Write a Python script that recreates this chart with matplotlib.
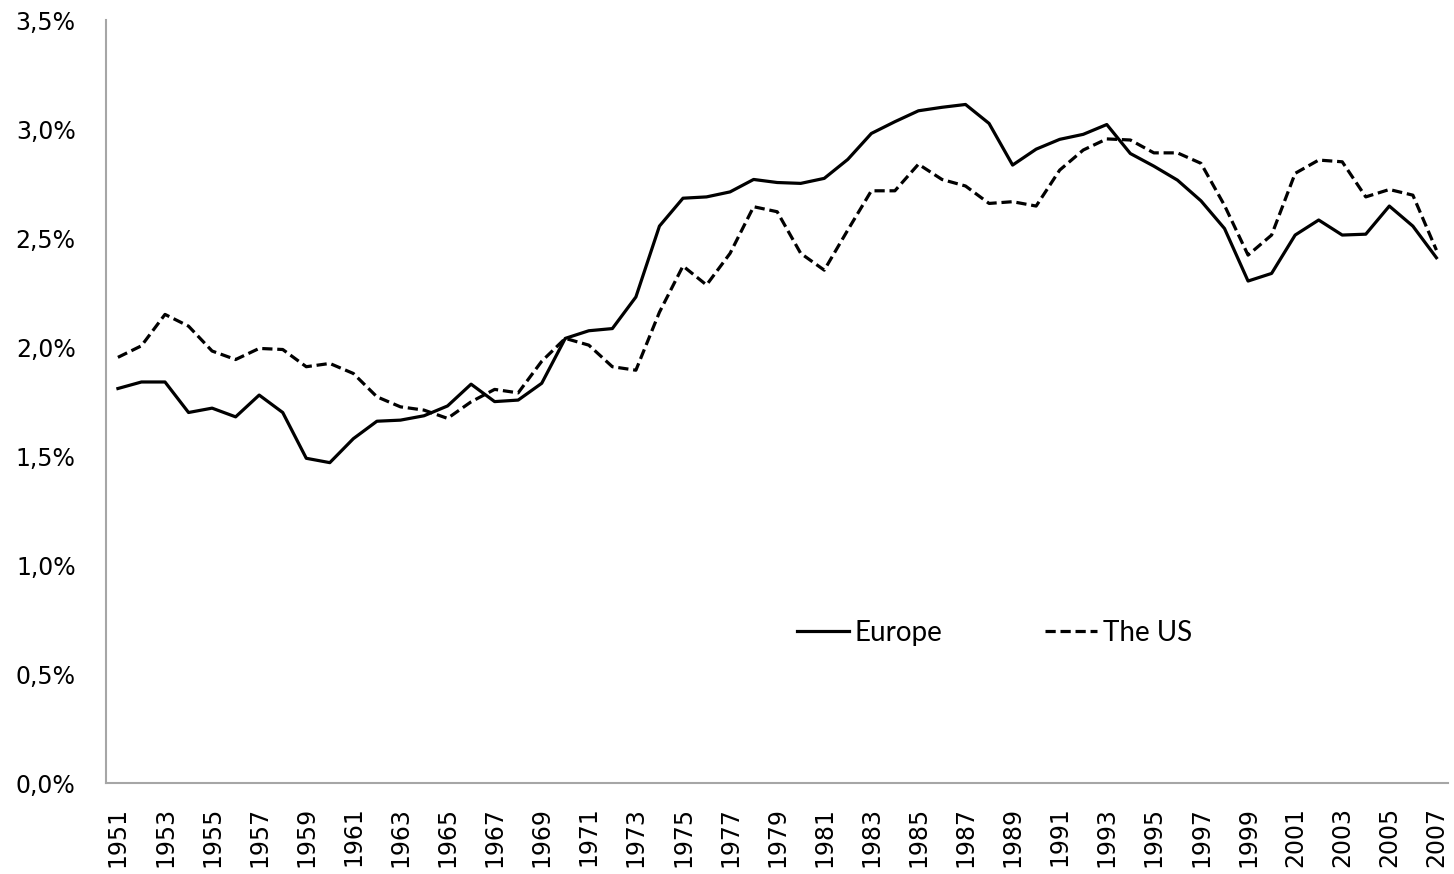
import matplotlib
matplotlib.use("Agg")
import matplotlib.pyplot as plt
from matplotlib.ticker import FuncFormatter
import numpy as np

years = list(range(1951, 2008))

europe = [1.81, 1.84, 1.84, 1.70, 1.72, 1.68, 1.78, 1.70, 1.49, 1.47,
          1.58, 1.66, 1.665, 1.685, 1.73, 1.83, 1.75, 1.757, 1.834, 2.04,
          2.075, 2.085, 2.23, 2.555, 2.683, 2.689, 2.712, 2.769, 2.755, 2.751,
          2.774, 2.861, 2.98, 3.034, 3.084, 3.10, 3.113, 3.026, 2.835, 2.908,
          2.953, 2.976, 3.021, 2.888, 2.83, 2.766, 2.671, 2.544, 2.303, 2.338,
          2.514, 2.583, 2.514, 2.518, 2.647, 2.555, 2.41]

us = [1.953, 2.006, 2.15, 2.096, 1.982, 1.943, 1.994, 1.989, 1.91, 1.925,
      1.879, 1.772, 1.726, 1.711, 1.673, 1.749, 1.806, 1.79, 1.935, 2.04,
      2.009, 1.91, 1.894, 2.16, 2.372, 2.285, 2.43, 2.644, 2.621, 2.43,
      2.353, 2.537, 2.717, 2.717, 2.839, 2.769, 2.739, 2.659, 2.667, 2.647,
      2.812, 2.904, 2.955, 2.95, 2.891, 2.891, 2.843, 2.65, 2.422, 2.514,
      2.797, 2.858, 2.85, 2.689, 2.723, 2.697, 2.445]

plt.rcParams['font.family'] = ['DejaVu Sans']

fig = plt.figure(figsize=(14.54, 8.74), dpi=100)
ax = fig.add_axes([0.073, 0.104, 0.923, 0.873])

ax.plot(years, europe, color='black', linewidth=2.3, label='Europe')
ax.plot(years, us, color='black', linewidth=2.3, linestyle=(0, (3.2, 1.5)),
        label='The US')

ax.set_xlim(1950.5, 2007.5)
ax.set_ylim(0, 3.5)
ax.set_yticks(np.arange(0, 3.51, 0.5))
ax.yaxis.set_major_formatter(FuncFormatter(lambda v, p: f"{v:.1f}%".replace('.', ',')))
ax.set_xticks(years[::2])
ax.set_xticklabels([str(y) for y in years[::2]], rotation=90)

ax.tick_params(axis='both', length=0, labelsize=17)
ax.tick_params(axis='y', pad=22)
ax.tick_params(axis='x', pad=17)

for side in ['top', 'right']:
    ax.spines[side].set_visible(False)
for side in ['left', 'bottom']:
    ax.spines[side].set_color('#a6a6a6')
    ax.spines[side].set_linewidth(1.5)

leg = ax.legend(loc='center', bbox_to_anchor=(0.662, 0.197), ncol=2,
                frameon=False, handlelength=1.87, handletextpad=0.2,
                columnspacing=3.7, prop={'family': 'Lato', 'size': 20})

fig.savefig('out.png', dpi=100)
